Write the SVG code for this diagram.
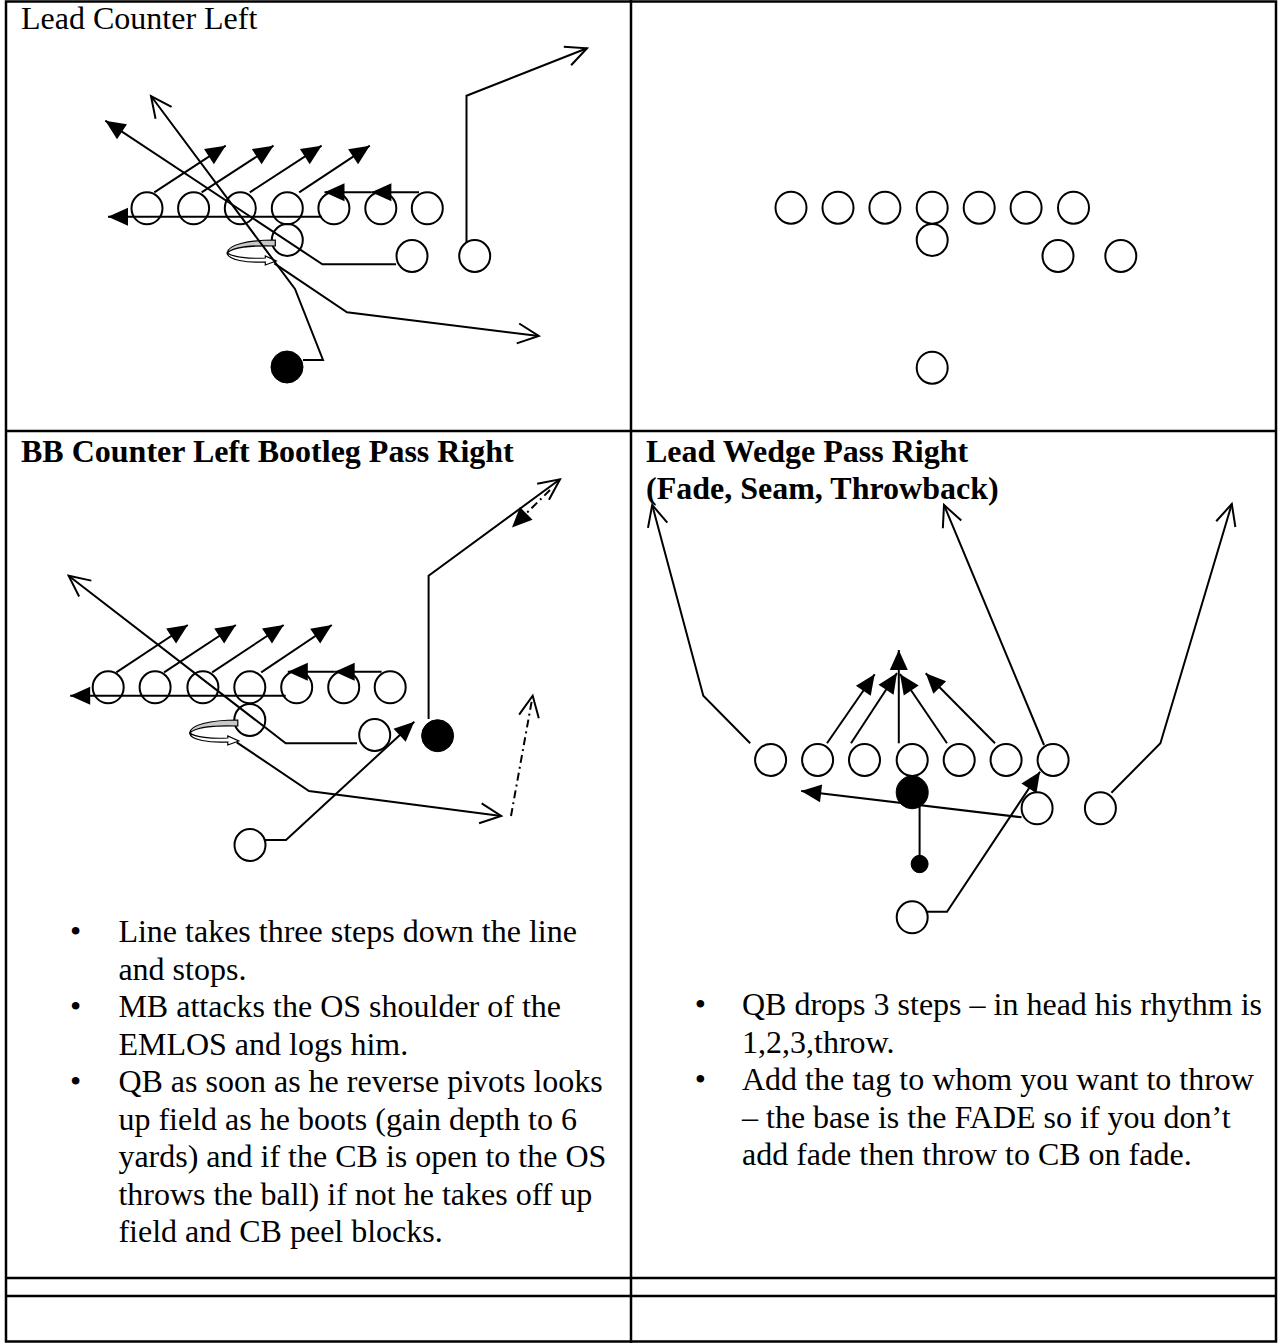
<svg xmlns="http://www.w3.org/2000/svg" xmlns:xlink="http://www.w3.org/1999/xlink" width="1278" height="1343" viewBox="0 0 1278 1343">
<style>
.pl{fill:none;stroke:#000;stroke-width:2}
.fp{fill:#000;stroke:#000;stroke-width:1}
.ln{fill:none;stroke:#000;stroke-width:2;stroke-linejoin:miter}
.fa{marker-end:url(#fa)}
.oa{marker-end:url(#oa)}
.dash{stroke-dasharray:8 4 2 4}
.tb{fill:none;stroke:#000;stroke-width:2.5}
.t{font-family:"Liberation Serif","Times New Roman",serif;font-size:32px;fill:#000}
.b{font-weight:bold}
</style>
<defs>
<marker id="fa" markerUnits="userSpaceOnUse" markerWidth="22" markerHeight="20" refX="20" refY="9" orient="auto" overflow="visible"><path d="M0,0 L20,9 L0,18 z" fill="#000"/></marker>
<marker id="oa" markerUnits="userSpaceOnUse" markerWidth="24" markerHeight="24" refX="21" refY="10" orient="auto" overflow="visible"><path d="M0,0 L21,10 L0,20" fill="none" stroke="#000" stroke-width="2"/></marker>
<g id="pivot">
<path d="M-12,-2 C-40,-2 -60,3 -60,11 C-55,6 -38,3 -12,4 Z" fill="#c8c8c8" stroke="#000" stroke-width="1.2"/>
<path d="M-60,11 C-60,18 -40,21 -22,20 L-22,23 L-11,19 L-22,14 L-22,16 C-38,17 -55,15 -60,11 Z" fill="#fff" stroke="#000" stroke-width="1.2"/>
</g>
</defs>
<rect width="1278" height="1343" fill="#fff"/>
<g id="table">
<rect class="tb" x="6" y="1.5" width="1270" height="1340"/>
<line class="tb" x1="631" y1="0" x2="631" y2="1343"/>
<line class="tb" x1="6" y1="431" x2="1276" y2="431"/>
<line class="tb" x1="6" y1="1278" x2="1276" y2="1278"/>
<line class="tb" x1="6" y1="1296" x2="1276" y2="1296"/>
</g>
<g id="titles">
<text class="t" x="21" y="29">Lead Counter Left</text>
<text class="t b" x="21" y="462">BB Counter Left Bootleg Pass Right</text>
<text class="t b" x="646" y="462">Lead Wedge Pass Right</text>
<text class="t b" x="646" y="499">(Fade, Seam, Throwback)</text>
</g>
<g id="play1-nodes">
<ellipse class="pl" cx="147" cy="208.3" rx="15.5" ry="16"/>
<ellipse class="pl" cx="193.6" cy="208.3" rx="15.5" ry="16"/>
<ellipse class="pl" cx="240.3" cy="208.3" rx="15.5" ry="16"/>
<ellipse class="pl" cx="287.3" cy="208.3" rx="15.5" ry="16"/>
<ellipse class="pl" cx="333.9" cy="208.3" rx="15.5" ry="16"/>
<ellipse class="pl" cx="380.8" cy="208.3" rx="15.5" ry="16"/>
<ellipse class="pl" cx="427.3" cy="208.3" rx="15.5" ry="16"/>
<ellipse class="pl" cx="287.3" cy="240" rx="15.5" ry="16"/>
<ellipse class="pl" cx="412" cy="256" rx="15.5" ry="16"/>
<ellipse class="pl" cx="474.7" cy="256" rx="15.5" ry="16"/>
<ellipse class="fp" cx="287" cy="367" rx="16" ry="16"/>
<use xlink:href="#pivot" href="#pivot" x="287.3" y="242"/>
</g>
<g id="play1-connectors">
<path class="ln fa" d="M322,216.7 L108,216.7"/>
<path class="ln fa" d="M419,192.3 L371.4,192.3"/>
<path class="ln fa" d="M371.4,192.3 L324.5,192.3"/>
<path class="ln fa" d="M154.3,192.3 L225.7,145.7"/>
<path class="ln fa" d="M201.6,192.3 L273.5,145.7"/>
<path class="ln fa" d="M249.8,192.3 L321.6,145.7"/>
<path class="ln fa" d="M299.2,192.3 L369.8,145.7"/>
<path class="ln fa" d="M396,264.3 L322.4,264.3 L105.3,120.7"/>
<path class="ln oa" d="M303,360 L323,360 L295,289 L151,96"/>
<path class="ln oa" d="M274.3,263.3 L347,312.3 L538.8,336"/>
<path class="ln oa" d="M466.5,242 L466.5,95.7 L587,48.3"/>
</g>
<g id="play2-nodes">
<ellipse class="pl" cx="791" cy="207.7" rx="15.5" ry="16"/>
<ellipse class="pl" cx="838" cy="207.7" rx="15.5" ry="16"/>
<ellipse class="pl" cx="884.9" cy="207.7" rx="15.5" ry="16"/>
<ellipse class="pl" cx="932.2" cy="207.7" rx="15.5" ry="16"/>
<ellipse class="pl" cx="979.2" cy="207.7" rx="15.5" ry="16"/>
<ellipse class="pl" cx="1026.1" cy="207.7" rx="15.5" ry="16"/>
<ellipse class="pl" cx="1073.5" cy="207.7" rx="15.5" ry="16"/>
<ellipse class="pl" cx="932.2" cy="240" rx="15.5" ry="16"/>
<ellipse class="pl" cx="1058" cy="256" rx="15.5" ry="16"/>
<ellipse class="pl" cx="1120.8" cy="256" rx="15.5" ry="16"/>
<ellipse class="pl" cx="932.2" cy="367.7" rx="15.5" ry="16"/>
</g>
<g id="play3-nodes">
<ellipse class="pl" cx="108.2" cy="687.3" rx="15.5" ry="16"/>
<ellipse class="pl" cx="155.1" cy="687.3" rx="15.5" ry="16"/>
<ellipse class="pl" cx="202.9" cy="687.3" rx="15.5" ry="16"/>
<ellipse class="pl" cx="249.8" cy="687.3" rx="15.5" ry="16"/>
<ellipse class="pl" cx="296.7" cy="687.3" rx="15.5" ry="16"/>
<ellipse class="pl" cx="343.7" cy="687.3" rx="15.5" ry="16"/>
<ellipse class="pl" cx="390.2" cy="687.3" rx="15.5" ry="16"/>
<ellipse class="pl" cx="249.8" cy="720" rx="15.5" ry="16"/>
<ellipse class="pl" cx="374.7" cy="735" rx="15.5" ry="16"/>
<ellipse class="fp" cx="437.6" cy="735.7" rx="16" ry="16"/>
<ellipse class="pl" cx="250" cy="845" rx="15.5" ry="16"/>
<use xlink:href="#pivot" href="#pivot" x="249.8" y="722"/>
</g>
<g id="play3-connectors">
<path class="ln fa" d="M285.7,695.7 L70.2,695.7"/>
<path class="ln fa" d="M381.6,671.7 L334.7,671.7"/>
<path class="ln fa" d="M334.7,671.7 L287.8,671.7"/>
<path class="ln fa" d="M116.3,672.3 L187.8,625"/>
<path class="ln fa" d="M164.1,672.3 L235.9,625"/>
<path class="ln fa" d="M212.2,672.3 L283.7,625"/>
<path class="ln fa" d="M261.2,672.3 L331.8,625"/>
<path class="ln oa" d="M357,743.3 L285.7,743.3 L68.6,575.7"/>
<path class="ln oa" d="M236.7,742.3 L309,791 L501.2,816"/>
<path class="ln oa dash" d="M511,816 L532.7,695.7"/>
<path class="ln oa" d="M428.6,719 L428.6,575.7 L560,479.3"/>
<path class="ln fa dash" d="M550,490 L512,527.5"/>
<path class="ln fa" d="M265,840 L286,840 L414.3,721.7"/>
</g>
<g id="play4-nodes">
<ellipse class="pl" cx="770.6" cy="760" rx="15.5" ry="16"/>
<ellipse class="pl" cx="817.6" cy="760" rx="15.5" ry="16"/>
<ellipse class="pl" cx="864.5" cy="760" rx="15.5" ry="16"/>
<ellipse class="pl" cx="912.2" cy="760" rx="15.5" ry="16"/>
<ellipse class="pl" cx="959.2" cy="760" rx="15.5" ry="16"/>
<ellipse class="pl" cx="1006.1" cy="760" rx="15.5" ry="16"/>
<ellipse class="pl" cx="1053.1" cy="760" rx="15.5" ry="16"/>
<ellipse class="fp" cx="912.2" cy="792.3" rx="16" ry="16.5"/>
<ellipse class="fp" cx="919.6" cy="864" rx="8.5" ry="8.7"/>
<ellipse class="pl" cx="1037.1" cy="808.3" rx="15.5" ry="16"/>
<ellipse class="pl" cx="1100.4" cy="808.3" rx="15.5" ry="16"/>
<ellipse class="pl" cx="912.2" cy="917.3" rx="15.5" ry="16"/>
</g>
<g id="play4-connectors">
<path class="ln oa" d="M750.2,743.3 L703.3,695.7 L652.2,505"/>
<path class="ln oa" d="M1044,745 L944,505"/>
<path class="ln oa" d="M1111.4,792.7 L1160.4,743.3 L1231.8,504"/>
<path class="ln fa" d="M827,743.3 L874.7,674.3"/>
<path class="ln fa" d="M851,743.3 L897,673"/>
<path class="ln fa" d="M898.8,743.3 L898.8,650"/>
<path class="ln fa" d="M947,743.3 L900,674"/>
<path class="ln fa" d="M995,743.3 L925.7,673.3"/>
<path class="ln fa" d="M1021.6,817.3 L801.2,791"/>
<path class="ln" d="M919.6,805 L919.6,858"/>
<path class="ln fa" d="M925.7,911.7 L947,911.7 L1040,771.7"/>
</g>
<g id="notes-left">
<text class="t" x="75.5" y="942" text-anchor="middle">•</text>
<text class="t" x="75.5" y="1017" text-anchor="middle">•</text>
<text class="t" x="75.5" y="1092" text-anchor="middle">•</text>
<text class="t" x="118.4" y="942">Line takes three steps down the line</text>
<text class="t" x="118.4" y="979.5">and stops.</text>
<text class="t" x="118.4" y="1017">MB attacks the OS shoulder of the</text>
<text class="t" x="118.4" y="1054.5">EMLOS and logs him.</text>
<text class="t" x="118.4" y="1092">QB as soon as he reverse pivots looks</text>
<text class="t" x="118.4" y="1129.5">up field as he boots (gain depth to 6</text>
<text class="t" x="118.4" y="1167">yards) and if the CB is open to the OS</text>
<text class="t" x="118.4" y="1204.5">throws the ball) if not he takes off up</text>
<text class="t" x="118.4" y="1242">field and CB peel blocks.</text>
</g>
<g id="notes-right">
<text class="t" x="700.4" y="1015" text-anchor="middle">•</text>
<text class="t" x="700.4" y="1090" text-anchor="middle">•</text>
<text class="t" x="742" y="1015">QB drops 3 steps – in head his rhythm is</text>
<text class="t" x="742" y="1052.5">1,2,3,throw.</text>
<text class="t" x="742" y="1090">Add the tag to whom you want to throw</text>
<text class="t" x="742" y="1127.5">– the base is the FADE so if you don’t</text>
<text class="t" x="742" y="1165">add fade then throw to CB on fade.</text>
</g>
</svg>
